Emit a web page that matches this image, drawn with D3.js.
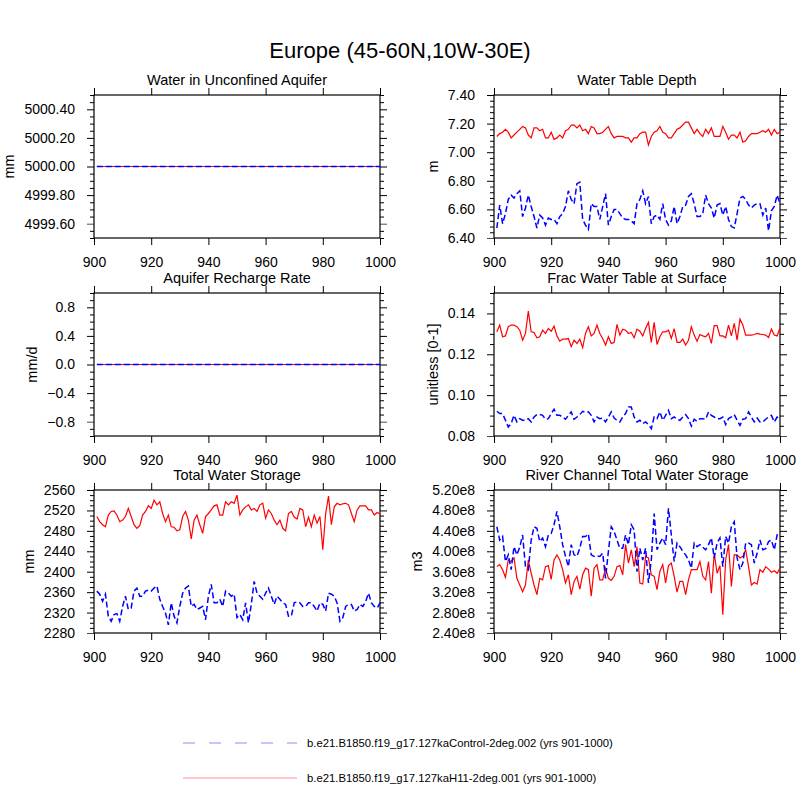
<!DOCTYPE html>
<html>
<head>
<meta charset="utf-8">
<script src="https://cdn.jsdelivr.net/npm/d3@7"></script>
<style>
  body { margin: 0; background: #fff; }
  text { font-family: "Liberation Sans", Arial, Helvetica, sans-serif; fill: #000; }
</style>
</head>
<body>
<div id="chart"></div>
<script>
// model years on the x axis
const years = d3.range(901, 1001);
const xTicks = [900, 920, 940, 960, 980, 1000];

const ctrlName = "b.e21.B1850.f19_g17.127kaControl-2deg.002 (yrs 901-1000)";
const h11Name = "b.e21.B1850.f19_g17.127kaH11-2deg.001 (yrs 901-1000)";

// Water in Unconfined Aquifer (mm)
const wauCtrl = [5000,5000,5000,5000,5000,5000,5000,5000,5000,5000,5000,5000,5000,5000,5000,5000,5000,5000,5000,5000,
  5000,5000,5000,5000,5000,5000,5000,5000,5000,5000,5000,5000,5000,5000,5000,5000,5000,5000,5000,5000,
  5000,5000,5000,5000,5000,5000,5000,5000,5000,5000,5000,5000,5000,5000,5000,5000,5000,5000,5000,5000,
  5000,5000,5000,5000,5000,5000,5000,5000,5000,5000,5000,5000,5000,5000,5000,5000,5000,5000,5000,5000,
  5000,5000,5000,5000,5000,5000,5000,5000,5000,5000,5000,5000,5000,5000,5000,5000,5000,5000,5000,5000];
const wauH11 = [5000,5000,5000,5000,5000,5000,5000,5000,5000,5000,5000,5000,5000,5000,5000,5000,5000,5000,5000,5000,
  5000,5000,5000,5000,5000,5000,5000,5000,5000,5000,5000,5000,5000,5000,5000,5000,5000,5000,5000,5000,
  5000,5000,5000,5000,5000,5000,5000,5000,5000,5000,5000,5000,5000,5000,5000,5000,5000,5000,5000,5000,
  5000,5000,5000,5000,5000,5000,5000,5000,5000,5000,5000,5000,5000,5000,5000,5000,5000,5000,5000,5000,
  5000,5000,5000,5000,5000,5000,5000,5000,5000,5000,5000,5000,5000,5000,5000,5000,5000,5000,5000,5000];

// Aquifer Recharge Rate (mm/d)
const qchCtrl = [0,0,0,0,0,0,0,0,0,0,0,0,0,0,0,0,0,0,0,0,0,0,0,0,0,0,0,0,0,0,0,0,0,0,0,0,0,0,0,0,0,0,0,0,0,0,0,0,0,0,
  0,0,0,0,0,0,0,0,0,0,0,0,0,0,0,0,0,0,0,0,0,0,0,0,0,0,0,0,0,0,0,0,0,0,0,0,0,0,0,0,0,0,0,0,0,0,0,0,0,0];
const qchH11 = [0,0,0,0,0,0,0,0,0,0,0,0,0,0,0,0,0,0,0,0,0,0,0,0,0,0,0,0,0,0,0,0,0,0,0,0,0,0,0,0,0,0,0,0,0,0,0,0,0,0,
  0,0,0,0,0,0,0,0,0,0,0,0,0,0,0,0,0,0,0,0,0,0,0,0,0,0,0,0,0,0,0,0,0,0,0,0,0,0,0,0,0,0,0,0,0,0,0,0,0,0];

// Water Table Depth (m)
const zwtCtrl = [6.47,6.63,6.50,6.57,6.67,6.70,6.68,6.71,6.73,6.55,6.61,6.70,6.62,6.55,6.47,6.56,6.54,6.49,6.54,6.53,
  6.53,6.50,6.55,6.57,6.62,6.73,6.67,6.64,6.78,6.79,6.53,6.49,6.46,6.64,6.62,6.62,6.53,6.62,6.71,6.49,
  6.55,6.60,6.60,6.57,6.54,6.53,6.53,6.52,6.50,6.64,6.67,6.73,6.64,6.69,6.50,6.55,6.56,6.53,6.64,6.53,
  6.49,6.52,6.62,6.50,6.55,6.62,6.63,6.69,6.71,6.64,6.55,6.55,6.57,6.70,6.64,6.61,6.54,6.63,6.64,6.56,
  6.62,6.53,6.48,6.47,6.57,6.68,6.69,6.67,6.63,6.61,6.63,6.64,6.64,6.56,6.61,6.45,6.59,6.62,6.70,6.64];
const zwtH11 = [7.11,7.13,7.14,7.16,7.14,7.10,7.12,7.14,7.16,7.18,7.17,7.12,7.10,7.17,7.17,7.15,7.16,7.10,7.10,7.14,
  7.09,7.10,7.12,7.10,7.15,7.16,7.19,7.19,7.17,7.19,7.15,7.16,7.13,7.18,7.17,7.13,7.13,7.14,7.16,7.18,
  7.13,7.10,7.11,7.11,7.11,7.10,7.10,7.07,7.10,7.10,7.13,7.14,7.14,7.05,7.11,7.14,7.15,7.18,7.14,7.13,
  7.10,7.10,7.13,7.16,7.17,7.19,7.21,7.21,7.17,7.13,7.16,7.13,7.11,7.16,7.13,7.17,7.11,7.11,7.11,7.18,
  7.14,7.09,7.12,7.12,7.10,7.14,7.07,7.08,7.11,7.13,7.13,7.13,7.14,7.15,7.14,7.16,7.12,7.16,7.13,7.14];

// Frac Water Table at Surface (unitless)
const fwtCtrl = [0.0921,0.0910,0.0910,0.0877,0.0844,0.0861,0.0901,0.0869,0.0885,0.0877,0.0877,0.0885,0.0869,0.0893,0.0905,0.0905,0.0901,0.0882,0.0885,0.0910,
  0.0931,0.0901,0.0901,0.0893,0.0882,0.0901,0.0918,0.0882,0.0893,0.0905,0.0921,0.0915,0.0918,0.0901,0.0869,0.0893,0.0885,0.0888,0.0869,0.0893,
  0.0918,0.0888,0.0877,0.0869,0.0893,0.0910,0.0942,0.0942,0.0893,0.0869,0.0877,0.0861,0.0869,0.0856,0.0836,0.0893,0.0885,0.0918,0.0877,0.0901,
  0.0926,0.0885,0.0893,0.0882,0.0877,0.0893,0.0905,0.0885,0.0849,0.0882,0.0872,0.0885,0.0885,0.0882,0.0918,0.0901,0.0893,0.0885,0.0885,0.0893,
  0.0856,0.0885,0.0893,0.0905,0.0877,0.0852,0.0882,0.0885,0.0918,0.0893,0.0869,0.0888,0.0869,0.0869,0.0882,0.0893,0.0901,0.0869,0.0893,0.0885];
const fwtH11 = [0.1310,0.1343,0.1286,0.1290,0.1335,0.1343,0.1343,0.1335,0.1318,0.1269,0.1302,0.1411,0.1310,0.1307,0.1281,0.1286,0.1318,0.1302,0.1326,0.1313,
  0.1338,0.1290,0.1264,0.1274,0.1274,0.1277,0.1237,0.1269,0.1253,0.1274,0.1232,0.1302,0.1335,0.1290,0.1302,0.1343,0.1302,0.1277,0.1245,0.1286,
  0.1253,0.1258,0.1346,0.1294,0.1323,0.1318,0.1302,0.1307,0.1281,0.1323,0.1313,0.1290,0.1326,0.1356,0.1258,0.1356,0.1248,0.1286,0.1310,0.1310,
  0.1318,0.1277,0.1326,0.1258,0.1258,0.1274,0.1245,0.1269,0.1335,0.1294,0.1264,0.1297,0.1290,0.1286,0.1302,0.1253,0.1340,0.1340,0.1290,0.1290,
  0.1281,0.1343,0.1290,0.1351,0.1269,0.1372,0.1343,0.1294,0.1294,0.1294,0.1297,0.1302,0.1299,0.1297,0.1294,0.1282,0.1323,0.1294,0.1290,0.1330];

// Total Water Storage (mm)
const twsCtrl = [2362,2356,2342,2356,2313,2303,2316,2318,2303,2332,2352,2326,2329,2362,2368,2352,2352,2362,2364,2362,
  2368,2372,2346,2332,2319,2296,2339,2313,2300,2332,2358,2368,2372,2332,2336,2326,2329,2332,2306,2352,
  2375,2339,2339,2346,2332,2362,2358,2352,2356,2310,2316,2306,2339,2300,2336,2381,2358,2352,2346,2358,
  2368,2352,2336,2352,2346,2339,2336,2313,2313,2339,2341,2339,2332,2332,2339,2339,2332,2323,2339,2336,
  2323,2358,2356,2352,2339,2303,2310,2332,2336,2336,2323,2326,2336,2332,2342,2358,2339,2332,2329,2339];
const twsH11 = [2508,2498,2492,2488,2511,2518,2519,2511,2498,2501,2508,2524,2508,2492,2485,2490,2511,2518,2529,2524,
  2540,2531,2537,2514,2498,2511,2488,2487,2480,2482,2508,2518,2501,2464,2501,2511,2492,2475,2508,2514,
  2521,2529,2531,2511,2511,2537,2531,2537,2534,2550,2511,2521,2527,2531,2521,2524,2518,2531,2534,2505,
  2521,2514,2501,2492,2501,2485,2480,2514,2518,2507,2503,2524,2521,2488,2507,2488,2511,2495,2508,2443,
  2514,2548,2492,2527,2534,2531,2533,2534,2531,2514,2498,2521,2529,2529,2529,2521,2521,2511,2516,2513];

// River Channel Total Water Storage (m3)
const rivCtrl = [4.48e8,4.22e8,4.29e8,3.80e8,3.93e8,3.64e8,4.09e8,3.93e8,4.08e8,4.32e8,3.70e8,3.64e8,4.22e8,4.48e8,4.45e8,4.19e8,4.26e8,4.09e8,4.32e8,4.35e8,
  4.52e8,4.78e8,4.48e8,4.13e8,3.90e8,3.70e8,4.13e8,3.93e8,3.90e8,4.06e8,4.29e8,4.29e8,4.34e8,3.93e8,3.90e8,3.91e8,3.90e8,3.96e8,3.47e8,4.00e8,
  4.48e8,4.39e8,4.22e8,4.06e8,4.06e8,4.32e8,4.13e8,4.52e8,4.42e8,3.60e8,4.06e8,3.83e8,4.06e8,3.38e8,3.83e8,4.74e8,4.03e8,4.16e8,4.26e8,4.13e8,
  4.84e8,4.32e8,3.80e8,4.16e8,4.09e8,4.00e8,3.93e8,3.83e8,3.67e8,4.16e8,4.09e8,4.13e8,4.08e8,4.03e8,4.13e8,4.26e8,3.87e8,4.16e8,4.26e8,3.70e8,
  4.29e8,4.16e8,4.48e8,4.58e8,3.87e8,3.64e8,3.77e8,4.16e8,4.16e8,4.13e8,3.77e8,3.96e8,4.22e8,4.03e8,4.05e8,4.19e8,4.22e8,4.03e8,4.32e8,4.29e8];
const rivH11 = [3.70e8,3.74e8,3.64e8,3.49e8,3.83e8,3.80e8,3.87e8,3.47e8,3.34e8,3.21e8,3.34e8,3.83e8,3.57e8,3.34e8,3.15e8,3.47e8,3.44e8,3.70e8,3.72e8,3.45e8,
  3.83e8,3.93e8,3.83e8,3.64e8,3.38e8,3.54e8,3.15e8,3.41e8,3.51e8,3.26e8,3.54e8,3.67e8,3.64e8,3.12e8,3.67e8,3.74e8,3.44e8,3.44e8,3.67e8,3.47e8,
  3.43e8,3.51e8,3.70e8,3.72e8,3.54e8,4.13e8,3.77e8,4.03e8,3.70e8,4.09e8,3.38e8,3.36e8,3.90e8,3.87e8,3.54e8,3.51e8,3.25e8,3.61e8,3.74e8,3.38e8,
  3.72e8,3.77e8,3.51e8,3.20e8,3.41e8,3.41e8,3.15e8,3.44e8,3.64e8,3.64e8,3.64e8,3.80e8,3.51e8,3.44e8,3.80e8,3.18e8,3.96e8,3.57e8,3.72e8,2.76e8,
  3.83e8,4.13e8,3.31e8,3.93e8,3.93e8,3.87e8,3.90e8,4.03e8,3.70e8,3.34e8,3.39e8,3.36e8,3.64e8,3.59e8,3.70e8,3.65e8,3.59e8,3.62e8,3.57e8,3.67e8];

// set the dimensions of the page and the panel boxes
const pageWidth = 800, pageHeight = 800;
const boxWidth = 286, boxHeight = 143;
const colLeft = [94, 494];
const rowTop = [95, 293, 490];

const ctrlColor = "#0000ff", h11Color = "#ff0000";

const panels = [
  { title: "Water in Unconfined Aquifer", units: "mm", col: 0, row: 0,
    domain: [4999.5, 5000.5], ticks: [4999.6, 4999.8, 5000.0, 5000.2, 5000.4], minor: 0.05,
    fmt: d3.format(".2f"), ctrl: wauCtrl, h11: wauH11 },
  { title: "Water Table Depth", units: "m", col: 1, row: 0,
    domain: [6.4, 7.4], ticks: [6.4, 6.6, 6.8, 7.0, 7.2, 7.4], minor: 0.04,
    fmt: d3.format(".2f"), ctrl: zwtCtrl, h11: zwtH11 },
  { title: "Aquifer Recharge Rate", units: "mm/d", col: 0, row: 1,
    domain: [-1, 1], ticks: [-0.8, -0.4, 0, 0.4, 0.8], minor: 0.1,
    fmt: d3.format(".1f"), ctrl: qchCtrl, h11: qchH11 },
  { title: "Frac Water Table at Surface", units: "unitless [0-1]", col: 1, row: 1,
    domain: [0.08, 0.15], ticks: [0.08, 0.10, 0.12, 0.14], minor: 0.005,
    fmt: d3.format(".2f"), ctrl: fwtCtrl, h11: fwtH11 },
  { title: "Total Water Storage", units: "mm", col: 0, row: 2,
    domain: [2280, 2560], ticks: [2280, 2320, 2360, 2400, 2440, 2480, 2520, 2560], minor: 10,
    fmt: d3.format("d"), ctrl: twsCtrl, h11: twsH11 },
  { title: "River Channel Total Water Storage", units: "m3", col: 1, row: 2,
    domain: [2.4e8, 5.2e8], ticks: [2.4e8, 2.8e8, 3.2e8, 3.6e8, 4.0e8, 4.4e8, 4.8e8, 5.2e8], minor: 0.1e8,
    fmt: v => (v / 1e8).toFixed(2) + "e8", ctrl: rivCtrl, h11: rivH11 }
];

// append the svg object to the body of the page
let svg = d3.select("#chart")
    .append("svg")
    .attr("width", pageWidth)
    .attr("height", pageHeight);

svg.append("rect")
    .attr("width", pageWidth)
    .attr("height", pageHeight)
    .attr("fill", "white");

svg.append("text")
    .attr("x", 400)
    .attr("y", 58)
    .attr("text-anchor", "middle")
    .style("font-size", "22px")
    .text("Europe (45-60N,10W-30E)");

const x = d3.scaleLinear().domain([900, 1000]).range([0, boxWidth]);

panels.forEach(p => {
    let g = svg.append("g")
        .attr("transform", "translate(" + colLeft[p.col] + "," + rowTop[p.row] + ")");

    let y = d3.scaleLinear().domain(p.domain).range([boxHeight, 0]);

    // minor ticks every p.minor, skipping the labelled ones
    let nMinor = Math.round((p.domain[1] - p.domain[0]) / p.minor);
    let minorTicks = d3.range(nMinor + 1)
        .map(i => p.domain[0] + i * p.minor)
        .filter(v => !p.ticks.some(t => Math.abs(t - v) < p.minor / 10));

    // left axis with labels
    let left = g.append("g")
        .call(d3.axisLeft(y).tickValues(p.ticks).tickFormat(p.fmt).tickSize(7).tickPadding(12).tickSizeOuter(0));
    left.append("g")
        .call(d3.axisLeft(y).tickValues(minorTicks).tickFormat("").tickSize(4).tickSizeOuter(0));

    // right axis, ticks only
    let right = g.append("g")
        .attr("transform", "translate(" + boxWidth + ",0)")
        .call(d3.axisRight(y).tickValues(p.ticks).tickFormat("").tickSize(7).tickSizeOuter(0));
    right.append("g")
        .call(d3.axisRight(y).tickValues(minorTicks).tickFormat("").tickSize(4).tickSizeOuter(0));

    // bottom axis with labels, top axis ticks only
    g.append("g")
        .attr("transform", "translate(0," + boxHeight + ")")
        .call(d3.axisBottom(x).tickValues(xTicks).tickFormat(d3.format("d")).tickSize(7).tickPadding(12).tickSizeOuter(0));
    g.append("g")
        .call(d3.axisTop(x).tickValues(xTicks).tickFormat("").tickSize(7).tickSizeOuter(0));

    g.selectAll(".domain").remove();
    g.selectAll(".tick line").attr("stroke", "#000").attr("stroke-width", 1);
    g.selectAll(".tick text").style("font-size", "14px").attr("font-family", null);

    // make the minor ticks a bit lighter
    left.select("g").selectAll(".tick line").attr("stroke-width", 0.7);
    right.select("g").selectAll(".tick line").attr("stroke-width", 0.7);

    // the frame
    g.append("rect")
        .attr("width", boxWidth)
        .attr("height", boxHeight)
        .attr("fill", "none")
        .attr("stroke", "#000")
        .attr("stroke-width", 1.2);

    let line = d3.line()
        .x((d, i) => x(years[i]))
        .y(d => y(d));

    g.append("path")
        .datum(p.h11)
        .attr("d", line)
        .attr("fill", "none")
        .attr("stroke", h11Color)
        .attr("stroke-width", 1.2);

    g.append("path")
        .datum(p.ctrl)
        .attr("d", line)
        .attr("fill", "none")
        .attr("stroke", ctrlColor)
        .attr("stroke-width", 1.5)
        .attr("stroke-dasharray", "6,3");

    // panel title
    g.append("text")
        .attr("x", boxWidth / 2)
        .attr("y", -10)
        .attr("text-anchor", "middle")
        .style("font-size", "14.5px")
        .text(p.title);

    // y axis title sits 15px left of the widest tick label
    let labelWidth = d3.max(left.selectAll(".tick text").nodes(), n => n.getBBox().width);
    let tx = -19 - labelWidth - 15;
    g.append("text")
        .attr("transform", "translate(" + tx + "," + boxHeight / 2 + ") rotate(-90)")
        .attr("text-anchor", "middle")
        .attr("dominant-baseline", "central")
        .style("font-size", "14.5px")
        .text(p.units);
});

// legend
let legend = svg.append("g");
const legendItems = [
    { name: ctrlName, color: "#b4b4ff", dash: "12,14", y: 743 },
    { name: h11Name, color: "#ffb4b4", dash: null, y: 778 }
];
legendItems.forEach(it => {
    legend.append("line")
        .attr("x1", 183).attr("x2", 297)
        .attr("y1", it.y).attr("y2", it.y)
        .attr("stroke", it.color)
        .attr("stroke-width", 1.5)
        .attr("stroke-dasharray", it.dash);
    legend.append("text")
        .attr("x", 307)
        .attr("y", it.y)
        .attr("dominant-baseline", "central")
        .style("font-size", "11.3px")
        .text(it.name);
});
</script>
</body>
</html>
